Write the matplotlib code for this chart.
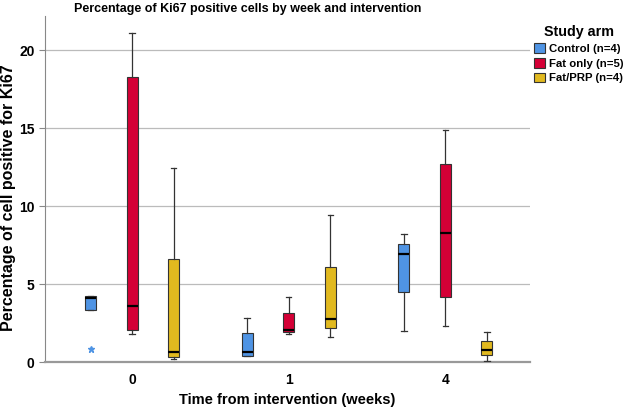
import matplotlib
matplotlib.use("Agg")
import matplotlib.pyplot as plt
from matplotlib.patches import Patch

plt.rcParams['font.family'] = ['Liberation Sans', 'DejaVu Sans']

weeks = ['0', '1', '4']
arms = ['Control (n=4)', 'Fat only (n=5)', 'Fat/PRP (n=4)']
colors = ['#4f94e4', '#d40036', '#e1b91f']

# box stats per arm, one value per week: whisker low, q1, median, q3, whisker high
whislo = {
    'Control (n=4)': [3.35, 0.40, 1.99],
    'Fat only (n=5)': [1.82, 1.80, 2.34],
    'Fat/PRP (n=4)': [0.21, 1.63, 0.08],
}
q1 = {
    'Control (n=4)': [3.35, 0.40, 4.46],
    'Fat only (n=5)': [2.08, 1.95, 4.16],
    'Fat/PRP (n=4)': [0.30, 2.19, 0.43],
}
med = {
    'Control (n=4)': [4.12, 0.66, 6.95],
    'Fat only (n=5)': [3.60, 2.06, 8.27],
    'Fat/PRP (n=4)': [0.62, 2.77, 0.77],
}
q3 = {
    'Control (n=4)': [4.22, 1.86, 7.57],
    'Fat only (n=5)': [18.30, 3.13, 12.73],
    'Fat/PRP (n=4)': [6.62, 6.09, 1.33],
}
whishi = {
    'Control (n=4)': [4.22, 2.83, 8.19],
    'Fat only (n=5)': [21.10, 4.14, 14.90],
    'Fat/PRP (n=4)': [12.45, 9.41, 1.91],
}
# extreme values (drawn as stars)
extremes = {
    'Control (n=4)': [[0.84], [], []],
    'Fat only (n=5)': [[], [], []],
    'Fat/PRP (n=4)': [[], [], []],
}

fig = plt.figure(figsize=(6.27, 4.09), dpi=100)
ax = fig.add_axes([45 / 627, 1 - 362 / 409, 485 / 627, 346 / 409])

offsets = [-0.265, 0, 0.265]
for k, arm in enumerate(arms):
    stats = []
    for i in range(len(weeks)):
        stats.append(dict(whislo=whislo[arm][i], q1=q1[arm][i], med=med[arm][i],
                          q3=q3[arm][i], whishi=whishi[arm][i], fliers=[]))
    pos = [i + offsets[k] for i in range(len(weeks))]
    ax.bxp(stats, positions=pos, widths=0.07, patch_artist=True, showfliers=False,
           boxprops=dict(facecolor=colors[k], edgecolor='#333333', linewidth=0.8),
           medianprops=dict(color='black', linewidth=1.6),
           whiskerprops=dict(color='#333333', linewidth=0.9),
           capprops=dict(color='#333333', linewidth=0.9),
           capwidths=0.035, zorder=3)
    for i in range(len(weeks)):
        for v in extremes[arm][i]:
            ax.plot(i + offsets[k], v, marker='*', color=colors[k], markersize=5,
                    linestyle='none', zorder=4)

ax.set_xlim(-0.556, 2.54)
ax.set_ylim(0, 22.2)
ax.set_yticks([0, 5, 10, 15, 20])
ax.set_xticks(range(len(weeks)))
ax.set_xticklabels(weeks)
ax.yaxis.grid(True, color='#bbbbbb', linewidth=0.9)
ax.set_axisbelow(True)
ax.spines['top'].set_visible(False)
ax.spines['right'].set_visible(False)
ax.spines['left'].set_color('#888888')
ax.spines['left'].set_linewidth(0.8)
ax.spines['bottom'].set_color('#999999')
ax.spines['bottom'].set_linewidth(1.6)
ax.tick_params(axis='x', length=0, pad=8, labelsize=10)
ax.tick_params(axis='y', length=4, color='#888888', labelsize=10)
for lab in ax.get_xticklabels() + ax.get_yticklabels():
    lab.set_fontweight('bold')

fig.text(287 / 627, 1 - 400 / 409, 'Time from intervention (weeks)',
         ha='center', va='center', fontsize=10.5, fontweight='bold')
fig.text(9 / 627, 1 - 198 / 409, 'Percentage of cell positive for Ki67', rotation=90,
         ha='center', va='center', fontsize=11.5, fontweight='bold')
fig.text(248 / 627, 1 - 9 / 409, 'Percentage of Ki67 positive cells by week and intervention',
         ha='center', va='center', fontsize=9, fontweight='bold')

handles = [Patch(facecolor=c, edgecolor='#333333', linewidth=0.8) for c in colors]
leg = fig.legend(handles, arms, loc='upper left', bbox_to_anchor=(526 / 627, 1 - 17 / 409),
                 frameon=False, title='Study arm', fontsize=8.2,
                 title_fontproperties={'weight': 'bold', 'size': 10.3},
                 handlelength=0.95, handleheight=0.95, handletextpad=0.35,
                 labelspacing=0.35, borderpad=0.2)
for t in leg.get_texts():
    t.set_fontweight('bold')

fig.savefig('out.png', dpi=100)
